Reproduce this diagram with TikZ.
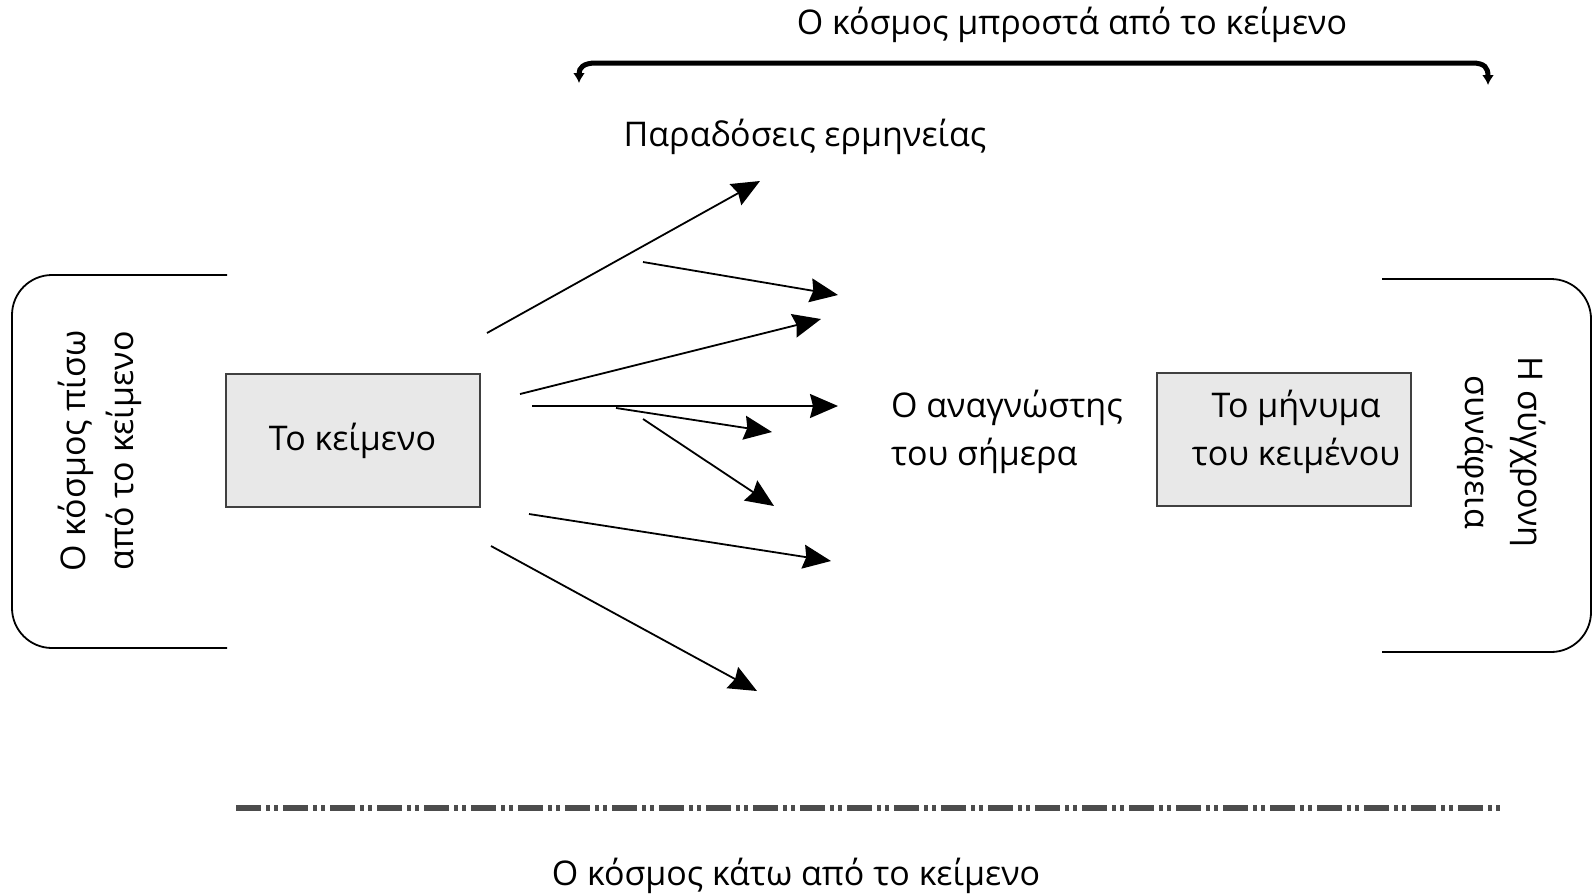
\documentclass[tikz,border=0pt]{standalone}
\usepackage{fontspec}
\setmainfont{Open Sans}
\usetikzlibrary{arrows.meta}

\tikzset{
  textbox/.style={draw=black!75, fill=black!9, line width=1pt,
    minimum width=127pt, minimum height=66.5pt, align=center,
    font=\fontsize{17}{24}\selectfont},
  label text/.style={align=center, font=\fontsize{17}{24}\selectfont},
  ray/.style={line width=0.9pt, -{Stealth[inset=1.5pt,length=14pt,width=12pt]}},
  world bracket/.style={line width=0.9pt, rounded corners=20pt},
  front arrow/.style={line width=2.5pt, line cap=round,
    {Latex[length=5pt,width=6pt]}-{Latex[length=5pt,width=6pt]}},
  under line/.style={draw=black!70, line width=2.6pt,
    dash pattern=on 12.5pt off 2.5pt on 2pt off 2pt on 2pt off 2.5pt},
}

\begin{document}
\begin{tikzpicture}[x=0.5pt, y=-0.5pt]
\useasboundingbox (0,0) rectangle (1593,894);

% the two boxes
\node [textbox] (text) at (352.5,440.5) {Το κείμενο};
\node [textbox] (message) at (1284,439.5) {};
\node [label text] (message-label) at (1296,432) {Το μήνυμα\\του κειμένου};

% reader
\node [label text, align=left, anchor=west] (reader) at (884,432)
  {Ο αναγνώστης\\του σήμερα};

% interpretations
\node [label text] (traditions) at (805,137) {Παραδόσεις ερμηνείας};

% rays out of the text
\foreach \xa/\ya/\xb/\yb [count=\i] in
  {487/333/760/181, 643/262/838/295, 520/394/821/319, 532/406/838/406,
   616/408/772/432, 643/419/774/506, 529/514/831/561, 491/546/757/691}
{
  \coordinate (ray-start-\i) at (\xa,\ya);
  \coordinate (ray-end-\i) at (\xb,\yb);
  \draw [ray] (ray-start-\i) -- (ray-end-\i);
}

% world behind the text
\coordinate (behind-top) at (227,275);
\coordinate (behind-bottom) at (227,648);
\draw [world bracket] (behind-top) -- (12,275) -- (12,648) -- (behind-bottom);
\node [label text, rotate=90] (behind) at (100,451)
  {Ο κόσμος πίσω\\από το κείμενο};

% contemporary context
\coordinate (context-top) at (1382,279);
\coordinate (context-bottom) at (1382,652);
\draw [world bracket] (context-top) -- (1591,279) -- (1591,652) -- (context-bottom);
\node [label text, rotate=-90, font=\fontsize{17}{26.5}\selectfont]
  (context) at (1502,452) {Η σύγχρονη\\συνάφεια};

% world in front of the text
\node [label text] (front) at (1072,25) {Ο κόσμος μπροστά από το κείμενο};
\coordinate (front-left) at (579,83);
\coordinate (front-right) at (1488,85);
\draw [front arrow] (front-left) .. controls (579,68) and (583,63) .. (596,63)
  -- (1472,63) .. controls (1485,63) and (1488,68) .. (front-right);

% world under the text
\coordinate (under-left) at (236,808);
\coordinate (under-right) at (1500,808);
\draw [under line] (under-left) -- (under-right);
\node [label text] (under) at (796,876) {Ο κόσμος κάτω από το κείμενο};

\end{tikzpicture}
\end{document}
